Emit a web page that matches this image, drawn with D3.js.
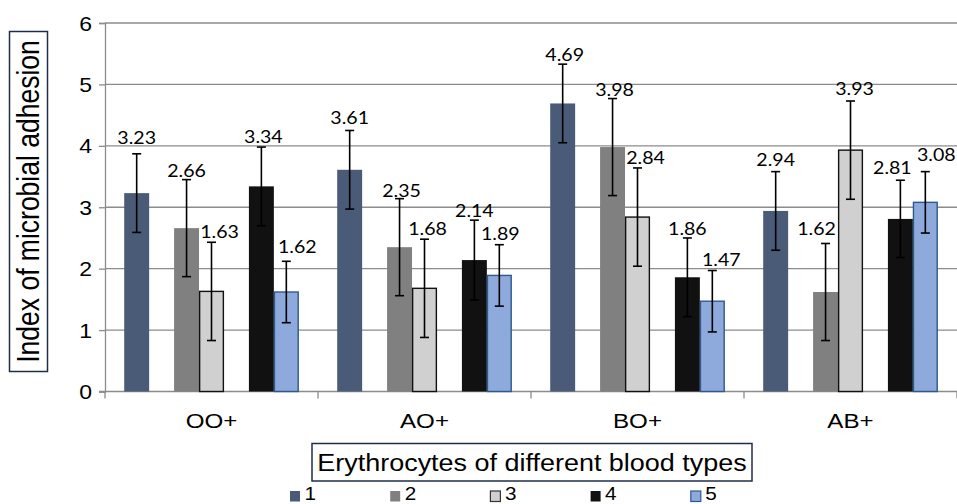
<!DOCTYPE html>
<html>
<head>
<meta charset="utf-8">
<script src="https://cdn.jsdelivr.net/npm/d3@7"></script>
<style>
  html, body { margin: 0; padding: 0; background: #fff; }
  svg { display: block; }
</style>
</head>
<body>
<svg id="chart" width="957" height="504"></svg>
<script>
// ---- Data ----
const categories = ["OO+", "AO+", "BO+", "AB+"];
const seriesNames = ["1", "2", "3", "4", "5"];
// values per series, one entry per category
const series1 = [3.23, 3.61, 4.69, 2.94];
const series2 = [2.66, 2.35, 3.98, 1.62];
const series3 = [1.63, 1.68, 2.84, 3.93];
const series4 = [3.34, 2.14, 1.86, 2.81];
const series5 = [1.62, 1.89, 1.47, 3.08];
const errors1 = [0.64, 0.64, 0.64, 0.64];
const errors2 = [0.79, 0.79, 0.79, 0.79];
const errors3 = [0.80, 0.80, 0.80, 0.80];
const errors4 = [0.64, 0.65, 0.64, 0.63];
const errors5 = [0.50, 0.50, 0.50, 0.50];
const yTicks = [0, 1, 2, 3, 4, 5, 6];
const yTitle = "Index of microbial adhesion";
const xTitle = "Erythrocytes of different blood types";

// ---- Layout / style ----
const values = [series1, series2, series3, series4, series5];
const errors = [errors1, errors2, errors3, errors4, errors5];
const slotOf = [0, 2, 3, 5, 6];          // bar slot within a group (7 slots)
const fills   = ["#4A5B78", "#808080", "#D0D0D0", "#111111", "#8EA9DB"];
const strokes = ["none", "none", "#111111", "none", "#2E5A8A"];
const legendStrokes = ["none", "none", "#333", "none", "#2E5A8A"];
// label nudges [dx, dy] per category, per series
const labelNudge = [
  [[0,-6],[0,1],[8,0],[2,0],[11,-4]],
  [[0,-2],[2,2],[3,0],[0,1],[1,-1]],
  [[2,1],[2,1],[8,0],[0,1],[9,-1]],
  [[0,-2],[-9,-4],[4,-2],[-8,-2],[11,-7]]
];

const svg = d3.select("#chart");
const x0 = 105, x1 = 957, yTop = 23, yBot = 391.5;

const x = d3.scaleBand().domain(categories).range([x0, x1]).padding(0);
const slot = d3.scaleBand().domain(d3.range(7)).range([0, x.bandwidth()])
  .paddingInner(0).paddingOuter(0.77);
const y = d3.scaleLinear().domain([0, 6]).range([yBot, yTop]);

const SX = 1.15;
const axisFont = "'Liberation Sans', Arial, sans-serif";

// gridlines
svg.append("g").selectAll("line").data(yTicks.filter(d => d > 0)).join("line")
  .attr("x1", x0).attr("x2", x1)
  .attr("y1", d => y(d)).attr("y2", d => y(d))
  .attr("stroke", "#8C8C8C").attr("stroke-width", 1.3);

// y axis
const yAxis = d3.axisLeft(y).tickValues(yTicks).tickSize(6).tickFormat(d3.format("d"));
const gy = svg.append("g").attr("transform", `translate(${x0},0)`).call(yAxis);
gy.select(".domain").attr("stroke", "#8C8C8C").attr("stroke-width", 1.3);
gy.selectAll(".tick line").attr("stroke", "#8C8C8C").attr("stroke-width", 1.3);
gy.selectAll(".tick text").remove();
gy.selectAll(".tick").append("text")
  .attr("transform", "translate(-13,7) scale(" + SX + ",1)")
  .attr("text-anchor", "end")
  .attr("font-family", axisFont).attr("font-size", 20).attr("fill", "#000")
  .text(d => d);

// x axis
const gx = svg.append("g").attr("transform", `translate(0,${yBot})`);
gx.append("line").attr("x1", x0 - 6).attr("x2", x1).attr("y1", 0).attr("y2", 0)
  .attr("stroke", "#8C8C8C").attr("stroke-width", 1.3);
const boundaries = categories.map(c => x(c)).concat([x(categories[categories.length-1]) + x.bandwidth()]);
gx.selectAll("line.tk").data(boundaries).join("line").attr("class", "tk")
  .attr("x1", d => d).attr("x2", d => d).attr("y1", 0).attr("y2", 7)
  .attr("stroke", "#8C8C8C").attr("stroke-width", 1.3);
gx.selectAll("text.cat").data(categories).join("text").attr("class", "cat")
  .attr("transform", d => `translate(${x(d) + x.bandwidth()/2},36) scale(${SX},1)`)
  .attr("text-anchor", "middle")
  .attr("font-family", axisFont).attr("font-size", 21).attr("fill", "#000")
  .text(d => d);

// bars
const flat = [];
categories.forEach((c, ci) => {
  values.forEach((vals, si) => {
    flat.push({ c, ci, si, v: vals[ci], e: errors[si][ci] });
  });
});
const cx = d => x(d.c) + slot(slotOf[d.si]) + slot.bandwidth() / 2;

svg.append("g").selectAll("rect").data(flat).join("rect")
  .attr("x", d => x(d.c) + slot(slotOf[d.si]) + (strokes[d.si] === "none" ? 0 : 0.6))
  .attr("width", d => slot.bandwidth() - (strokes[d.si] === "none" ? 0 : 1.2))
  .attr("y", d => y(d.v))
  .attr("height", d => y(0) - y(d.v))
  .attr("fill", d => fills[d.si])
  .attr("stroke", d => strokes[d.si])
  .attr("stroke-width", 1.4);

// error bars
const eg = svg.append("g").attr("stroke", "#000").attr("stroke-width", 1.6);
eg.selectAll("line.v").data(flat).join("line").attr("class", "v")
  .attr("x1", cx).attr("x2", cx)
  .attr("y1", d => y(d.v + d.e)).attr("y2", d => y(d.v - d.e));
eg.selectAll("line.t").data(flat).join("line").attr("class", "t")
  .attr("x1", d => cx(d) - 4.5).attr("x2", d => cx(d) + 4.5)
  .attr("y1", d => y(d.v + d.e)).attr("y2", d => y(d.v + d.e));
eg.selectAll("line.b").data(flat).join("line").attr("class", "b")
  .attr("x1", d => cx(d) - 4.5).attr("x2", d => cx(d) + 4.5)
  .attr("y1", d => y(d.v - d.e)).attr("y2", d => y(d.v - d.e));

// value labels
svg.append("g").selectAll("text").data(flat).join("text")
  .attr("transform", d => {
    const n = labelNudge[d.ci][d.si];
    return `translate(${cx(d) + n[0]},${y(d.v + d.e) - 4 + n[1]}) scale(1.12,1)`;
  })
  .attr("text-anchor", "middle")
  .attr("font-family", "Lato, 'Open Sans', sans-serif").attr("font-size", 17.5)
  .attr("fill", "#000")
  .text(d => d3.format(".2f")(d.v));

// y title with box
svg.append("rect").attr("x", 9.5).attr("y", 31.5).attr("width", 38).attr("height", 340)
  .attr("fill", "#fff").attr("stroke", "#1F2D4D").attr("stroke-width", 1.5);
svg.append("text")
  .attr("transform", "translate(39,201.5) rotate(-90) scale(1,1.2)")
  .attr("text-anchor", "middle")
  .attr("font-family", axisFont).attr("font-size", 26.5).attr("fill", "#000")
  .text(yTitle);

// x title with box
svg.append("rect").attr("x", 312).attr("y", 443.5).attr("width", 440).attr("height", 37.5)
  .attr("fill", "#fff").attr("stroke", "#1F2D4D").attr("stroke-width", 1.5);
svg.append("text")
  .attr("transform", "translate(532,471) scale(1.1,1)")
  .attr("text-anchor", "middle")
  .attr("font-family", axisFont).attr("font-size", 24.5).attr("fill", "#000")
  .text(xTitle);

// legend
const lg = svg.append("g").selectAll("g").data(seriesNames).join("g")
  .attr("transform", (d, i) => `translate(${289.5 + i * 100.2},0)`);
lg.append("rect").attr("x", 0.5).attr("y", 491).attr("width", 10).attr("height", 10.5)
  .attr("fill", (d, i) => fills[i])
  .attr("stroke", (d, i) => legendStrokes[i]).attr("stroke-width", 1.2);
lg.append("text")
  .attr("transform", "translate(15,500) scale(" + SX + ",1)")
  .attr("font-family", axisFont).attr("font-size", 18).attr("fill", "#000")
  .text(d => d);
</script>
</body>
</html>
